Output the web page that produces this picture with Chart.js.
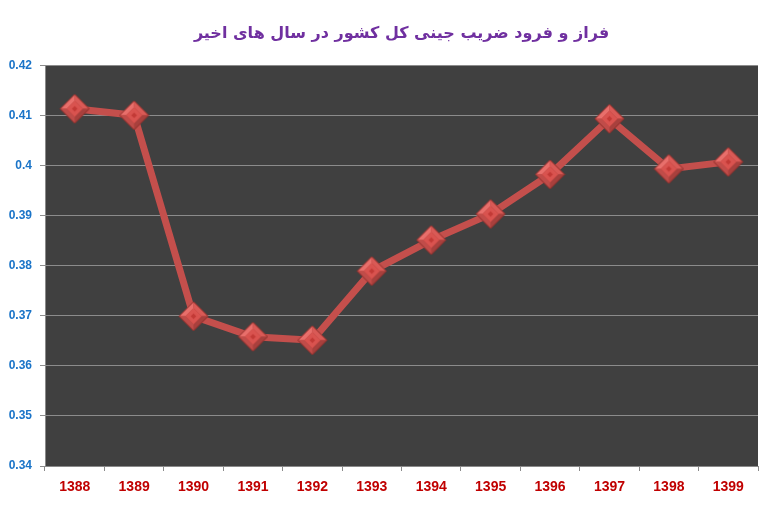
<!DOCTYPE html>
<html>
<head>
<meta charset="utf-8">
<script src="https://cdn.jsdelivr.net/npm/chart.js@4.4.0/dist/chart.umd.min.js"></script>
<style>
html,body{margin:0;padding:0;background:#fff;}
#wrap{width:773px;height:505px;}
</style>
</head>
<body>
<div id="wrap"><canvas id="c" width="773" height="505"></canvas></div>
<script>
const titleText = 'فراز و فرود ضریب جینی کل کشور در سال های اخیر';
const years = ['1388','1389','1390','1391','1392','1393','1394','1395','1396','1397','1398','1399'];
const giniValues = [0.4113, 0.4100, 0.3699, 0.3658, 0.3651, 0.3789, 0.3851, 0.3903, 0.3982, 0.4093, 0.3993, 0.4007];
const yTicks = [0.34, 0.35, 0.36, 0.37, 0.38, 0.39, 0.40, 0.41, 0.42];
const yLabels = ['0.34','0.35','0.36','0.37','0.38','0.39','0.4','0.41','0.42'];

// beveled diamond marker image
function makeDiamond(size){
  const cv = document.createElement('canvas');
  cv.width = size; cv.height = size;
  const g = cv.getContext('2d');
  const c = size/2, r = size/2 - 1;
  function diamond(rr){
    g.beginPath();
    g.moveTo(c, c-rr); g.lineTo(c+rr, c); g.lineTo(c, c+rr); g.lineTo(c-rr, c); g.closePath();
  }
  diamond(r);
  g.fillStyle = '#a83a37'; g.fill();
  const ir = r*0.55;
  g.beginPath(); g.moveTo(c-r, c); g.lineTo(c, c-r); g.lineTo(c, c-ir); g.lineTo(c-ir, c); g.closePath();
  g.fillStyle = '#e86f6b'; g.fill();
  g.beginPath(); g.moveTo(c, c-r); g.lineTo(c+r, c); g.lineTo(c+ir, c); g.lineTo(c, c-ir); g.closePath();
  g.fillStyle = '#d95a56'; g.fill();
  g.beginPath(); g.moveTo(c+r, c); g.lineTo(c, c+r); g.lineTo(c, c+ir); g.lineTo(c+ir, c); g.closePath();
  g.fillStyle = '#a8403d'; g.fill();
  g.beginPath(); g.moveTo(c, c+r); g.lineTo(c-r, c); g.lineTo(c-ir, c); g.lineTo(c, c+ir); g.closePath();
  g.fillStyle = '#c04c49'; g.fill();
  diamond(ir);
  g.fillStyle = '#d9534f'; g.fill();
  diamond(ir*0.35);
  g.fillStyle = '#c23a36'; g.fill();
  diamond(r);
  g.strokeStyle = '#8e2f2c'; g.lineWidth = 1; g.stroke();
  return cv;
}
const marker = makeDiamond(31);

const plotBg = {
  id: 'plotBg',
  beforeDraw(chart){
    const {ctx, chartArea:a} = chart;
    ctx.save();
    ctx.fillStyle = '#404040';
    ctx.fillRect(a.left, a.top, a.right - a.left, a.bottom - a.top);
    ctx.restore();
  }
};

new Chart(document.getElementById('c'), {
  type: 'line',
  data: {
    labels: years,
    datasets: [{
      data: giniValues,
      borderColor: '#c44f4c',
      borderWidth: 7,
      tension: 0,
      pointStyle: marker,
      pointRadius: 15,
      pointHoverRadius: 15,
      fill: false
    }]
  },
  options: {
    responsive: false,
    animation: false,
    devicePixelRatio: 1,
    layout: { autoPadding: false, padding: { left: 0, right: 15, top: 0, bottom: 0 } },
    plugins: {
      legend: { display: false },
      tooltip: { enabled: false },
      title: {
        display: true,
        fullSize: false,
        text: titleText,
        color: '#7030a0',
        font: { family: 'DejaVu Sans', size: 16, weight: 'bold' },
        padding: { top: 24, bottom: 22 }
      }
    },
    scales: {
      x: {
        offset: true,
        grid: { offset: true, drawOnChartArea: false, drawTicks: true, tickLength: 5, color: '#8a8a8a' },
        border: { color: '#8a8a8a' },
        ticks: { color: '#c00000', padding: 8, font: { family: 'Liberation Sans', size: 14, weight: 'bold' }, maxRotation: 0 },
        afterFit(s){ s.height = 39; }
      },
      y: {
        min: 0.34, max: 0.42,
        afterBuildTicks(s){ s.ticks = yTicks.map(v => ({value: v})); },
        grid: { color: '#8c8c8c', tickLength: 5, drawTicks: true },
        border: { color: '#8a8a8a' },
        ticks: {
          color: '#1a74c8',
          padding: 8,
          font: { family: 'Liberation Sans', size: 12, weight: 'bold' },
          callback(v){ const i = yTicks.findIndex(t => Math.abs(t - v) < 1e-9); return i >= 0 ? yLabels[i] : ''; }
        },
        afterFit(s){ s.width = 45; }
      }
    }
  },
  plugins: [plotBg]
});
</script>
</body>
</html>
